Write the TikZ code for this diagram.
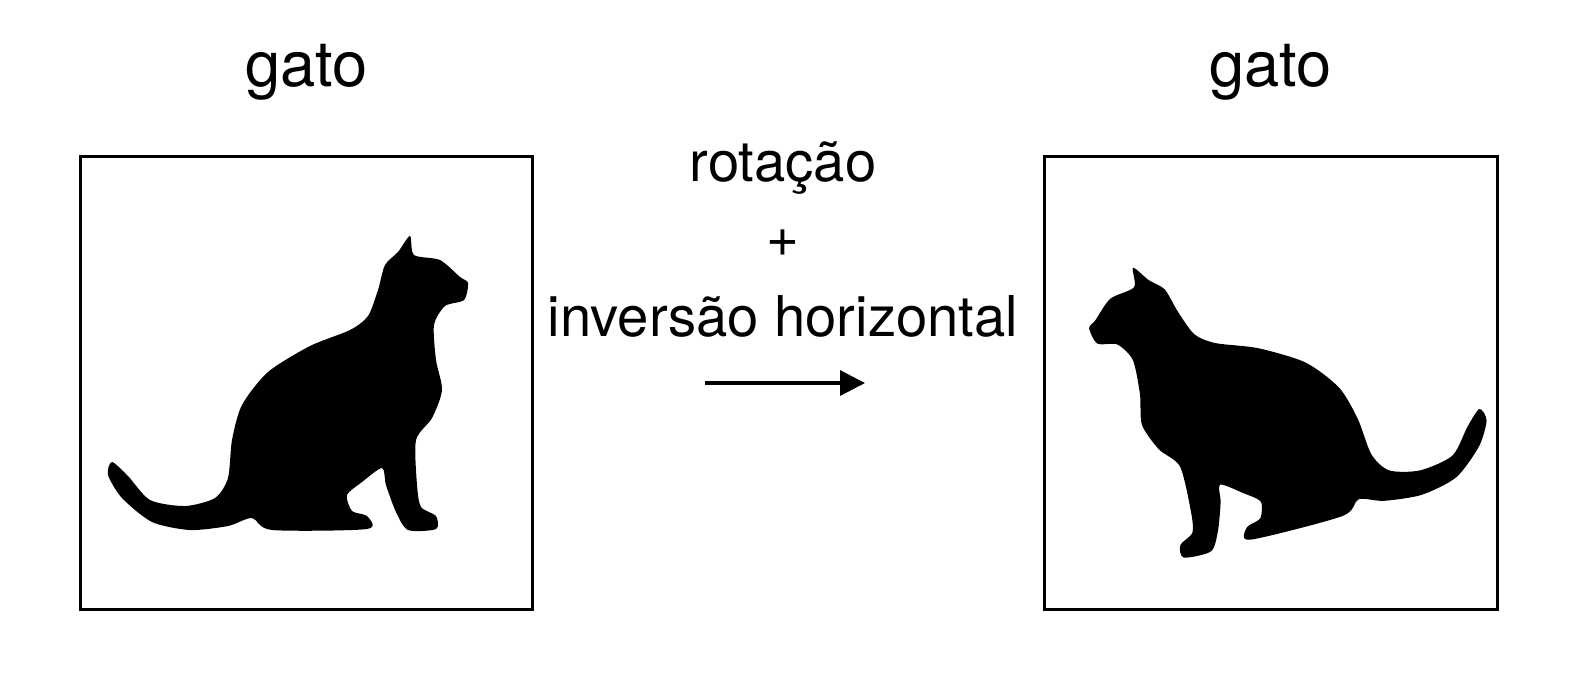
\documentclass[tikz,border=0pt]{standalone}
\usepackage{fontspec}
\setmainfont{TeX Gyre Heros}
\usetikzlibrary{positioning,arrows.meta}
\tikzset{
  imgbox/.style={draw,line width=0.9pt,minimum width=4.52cm,minimum height=4.52cm,inner sep=0pt},
  title/.style={font=\fontsize{18}{22}\selectfont},
  oplabel/.style={font=\fontsize{16}{20}\selectfont,align=center}
}
\newcommand{\catshape}{%
  \fill plot[smooth cycle,tension=0.45] coordinates {
    (112,462) (128,476) (150,500) (185,506) (215,498) (228,478) (232,440)
    (242,405) (268,372) (310,346) (350,330) (368,316) (378,290) (385,265)
    (398,252) (410,236) (414,255) (440,260) (460,277) (468,283) (464,300)
    (445,306) (434,325) (436,360) (442,390) (432,418) (416,440) (417,485)
    (421,507) (436,516) (436,529) (408,530) (396,512) (386,485) (382,468)
    (362,482) (347,495) (352,511) (367,516) (367,529) (272,530) (252,518)
    (228,526) (190,530) (152,522) (122,498) (108,475)};}
\begin{document}
\begin{tikzpicture}[x=0.01cm,y=-0.01cm]
  \useasboundingbox (0,0) rectangle (1586,672);
  \node[imgbox] (left) at (306.5,383) {};
  \node[imgbox] (right) at (1271,383) {};
  \node[title] (lt) at (306.5,72) {gato};
  \node[title] (rt) at (1271,72) {gato};
  \node[oplabel] (rot) at (783,168) {rotação};
  \node[oplabel] (plus) at (783,243) {+};
  \node[oplabel] (inv) at (783,316) {inversão horizontal};
  \coordinate (a0) at (705,383);
  \coordinate (a1) at (865,383);
  \draw[line width=0.9pt,-{Triangle[length=0.25cm,width=0.25cm]}] (a0) -- (a1);
  \catshape
  \begin{scope}[shift={(1271,383)},rotate=15,xscale=-1,shift={(-306.5,-383)}]
    \catshape
  \end{scope}
\end{tikzpicture}
\end{document}
